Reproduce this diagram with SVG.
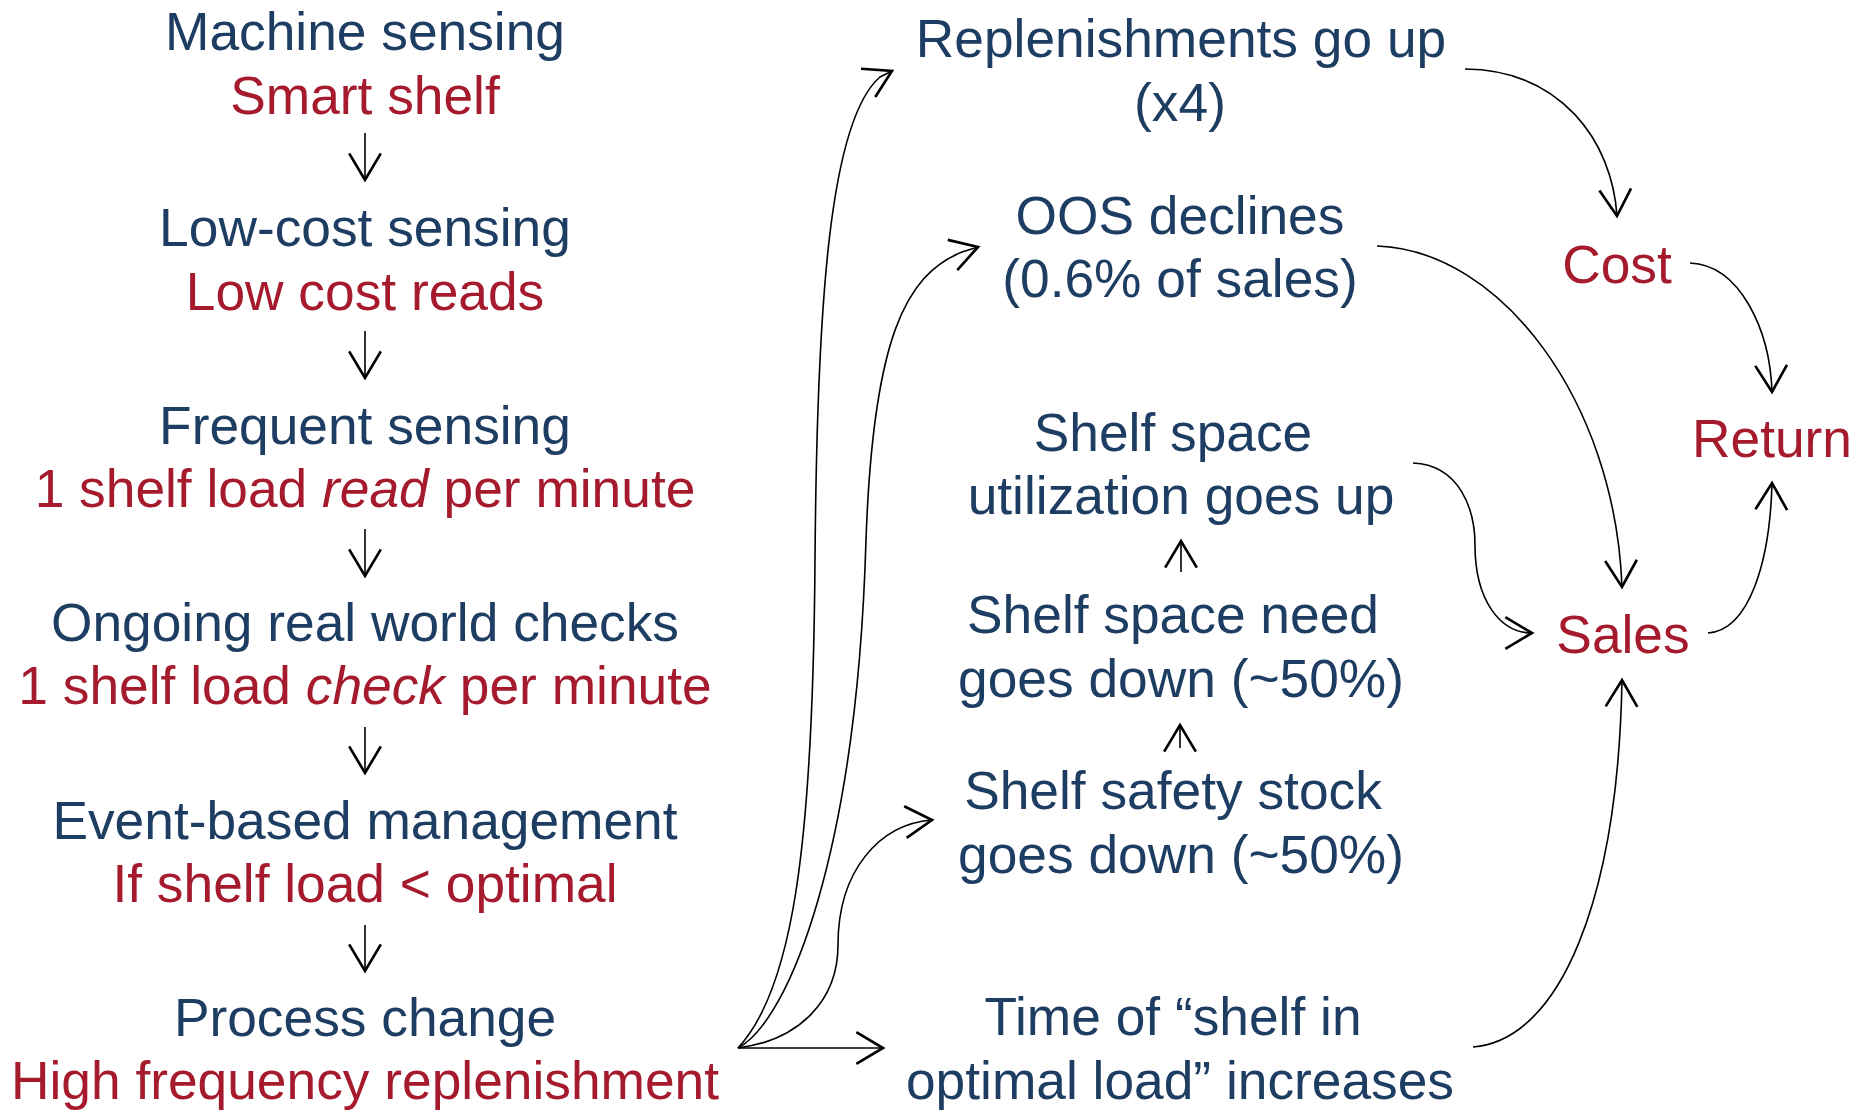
<svg xmlns="http://www.w3.org/2000/svg" width="1855" height="1110" viewBox="0 0 1855 1110">
<defs>
<style>
text{font-family:"Liberation Sans",Arial,sans-serif;font-size:53.3px;text-anchor:middle}
.b{fill:#1E3D62}
.r{fill:#A51A2D}
.c{fill:none;stroke:#000;stroke-width:1.6;marker-end:url(#ah)}
</style>
<marker id="ah" markerUnits="userSpaceOnUse" markerWidth="40" markerHeight="40" viewBox="-20 -12 24 24" refX="0" refY="0" orient="auto" overflow="visible">
<path d="M-16,-9.5 L0,0 L-16,9.5" fill="none" stroke="#000" stroke-width="1.6"/>
</marker>
</defs>
<rect width="1855" height="1110" fill="#fff"/>

<g id="n-machine"><text x="365" y="50" class="b">Machine sensing</text><text x="365" y="114" class="r">Smart shelf</text></g>
<g id="n-lowcost"><text x="365" y="246" class="b">Low-cost sensing</text><text x="365" y="310" class="r">Low cost reads</text></g>
<g id="n-frequent"><text x="365" y="444" class="b">Frequent sensing</text><text x="365" y="507" class="r">1 shelf load <tspan font-style="italic">read</tspan> per minute</text></g>
<g id="n-ongoing"><text x="365" y="641" class="b">Ongoing real world checks</text><text x="365" y="704" class="r">1 shelf load <tspan font-style="italic">check</tspan> per minute</text></g>
<g id="n-event"><text x="365" y="839" class="b">Event-based management</text><text x="365" y="902" class="r">If shelf load &lt; optimal</text></g>
<g id="n-process"><text x="365" y="1036" class="b">Process change</text><text x="365" y="1099" class="r">High frequency replenishment</text></g>

<g id="n-replen"><text x="1181" y="57" class="b">Replenishments go up</text><text x="1180" y="121" class="b">(x4)</text></g>
<g id="n-oos"><text x="1180" y="234" class="b">OOS declines</text><text x="1180" y="297" class="b">(0.6% of sales)</text></g>
<g id="n-util"><text x="1173" y="451" class="b">Shelf space</text><text x="1181" y="514" class="b">utilization goes up</text></g>
<g id="n-need"><text x="1173" y="633" class="b">Shelf space need</text><text x="1181" y="697" class="b">goes down (~50%)</text></g>
<g id="n-safety"><text x="1173" y="809" class="b">Shelf safety stock</text><text x="1181" y="873" class="b">goes down (~50%)</text></g>
<g id="n-time"><text x="1173" y="1035" class="b">Time of “shelf in</text><text x="1180" y="1099" class="b">optimal load” increases</text></g>

<g id="n-cost"><text x="1617" y="283" class="r">Cost</text></g>
<g id="n-return"><text x="1772" y="457" class="r">Return</text></g>
<g id="n-sales"><text x="1623" y="653" class="r">Sales</text></g>

<g id="connectors">
<path class="c" d="M365,133 L365,180"/>
<path class="c" d="M365,331 L365,378"/>
<path class="c" d="M365,529 L365,576"/>
<path class="c" d="M365,727 L365,773"/>
<path class="c" d="M365,925 L365,971"/>

<path class="c" d="M1181,572 L1181,541"/>
<path class="c" d="M1180,748 L1180,725"/>

<path class="c" d="M738,1048 L883,1048"/>
<path class="c" d="M738,1048 C800,1040 838,1000 838,945 C838,870 880,824 932,820"/>
<path class="c" d="M738,1048 C790,1020 857,850 866,540 C873,340 905,275 962,252 L978,247"/>
<path class="c" d="M738,1048 C792,990 813,850 815,560 C817,300 830,120 880,77 L892,71"/>

<path class="c" d="M1465,69 C1560,70 1612,140 1617,216"/>
<path class="c" d="M1377,246 C1500,250 1615,400 1622,587"/>
<path class="c" d="M1413,463 C1460,465 1475,510 1475,545 C1475,600 1500,633 1532,633"/>
<path class="c" d="M1473,1047 C1560,1040 1618,900 1622,680"/>
<path class="c" d="M1690,263 C1740,265 1770,330 1772,392"/>
<path class="c" d="M1708,633 C1750,630 1770,560 1772,483"/>
</g>
</svg>
